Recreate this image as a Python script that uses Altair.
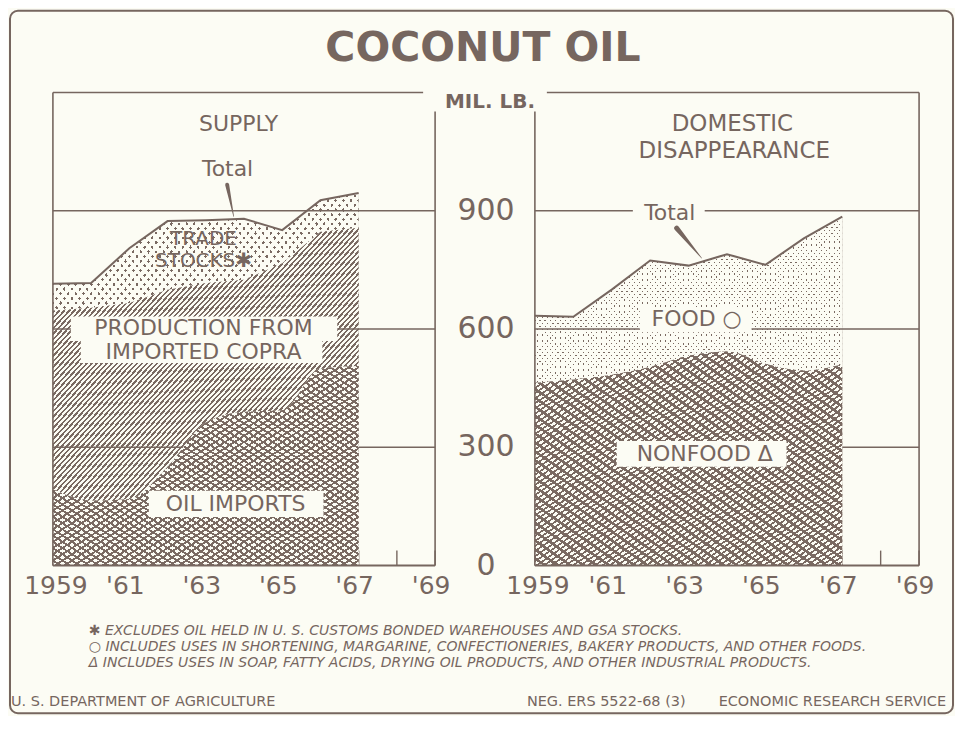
import altair as alt
import pandas as pd

# ---------------- data ----------------
years = [1959, 1960, 1961, 1962, 1963, 1964, 1965, 1966, 1967]
supply_total = [715, 717, 805, 874, 876, 880, 851, 927, 945]
supply_excl_stocks = [647, 654, 666, 700, 717, 725, 767, 847, 857]
oil_imports = [194, 165, 169, 251, 363, 390, 394, 500, 506]
disappearance_total = [634, 631, 700, 774, 761, 790, 763, 830, 885]
nonfood_use = [464, 472, 484, 504, 532, 543, 512, 495, 511]

y_label_values = [0, 300, 600, 900]
grid_values = [300, 600, 900]
x_label_years = [1959, 1961, 1963, 1965, 1967, 1969]
x_label_texts = ["1959", "'61", "'63", "'65", "'67", "'69"]
tick_years = [1959, 1960, 1961, 1962, 1963, 1964, 1965, 1966, 1967, 1968, 1969]

# annotation anchors (data units: year, mil. lb.)
supply_heads = ["SUPPLY"]
supply_heads_at = [(1963.86, 1119)]
supply_total_at = (1963.57, 1005)
supply_pointer = [(1963.56, 966, 4.0), (1963.73, 886, 0.6)]
stocks_labels = ["TRADE", "STOCKS✱"]
stocks_at = [(1962.94, 828), (1962.94, 772)]
copra_labels = ["PRODUCTION FROM", "IMPORTED COPRA"]
copra_at = [(1962.94, 603), (1962.94, 543)]
copra_boxes = [(1959.47, 1966.44, 632, 570), (1959.73, 1966.05, 570, 514)]
imports_labels = ["OIL IMPORTS"]
imports_at = [(1963.78, 157)]
imports_boxes = [(1961.51, 1966.08, 190, 123)]

dom_heads = ["DOMESTIC", "DISAPPEARANCE"]
dom_heads_at = [(1964.14, 1119), (1964.19, 1051)]
dom_total_at = (1962.51, 894)
dom_total_boxes = [(1961.55, 1963.42, 922, 866)]
dom_pointer = [(1962.69, 856, 5.0), (1963.34, 780, 0.6)]
food_labels = ["FOOD ○"]
food_at = [(1963.21, 625)]
food_boxes = [(1961.73, 1964.64, 656, 592)]
nonfood_labels = ["NONFOOD Δ"]
nonfood_at = [(1963.42, 284)]
nonfood_boxes = [(1961.13, 1965.55, 316, 251)]

footnotes = [
    "✱ EXCLUDES OIL HELD IN U. S. CUSTOMS BONDED WAREHOUSES AND GSA STOCKS.",
    "○ INCLUDES USES IN SHORTENING, MARGARINE, CONFECTIONERIES, BAKERY PRODUCTS, AND OTHER FOODS.",
    "Δ INCLUDES USES IN SOAP, FATTY ACIDS, DRYING OIL PRODUCTS, AND OTHER INDUSTRIAL PRODUCTS.",
]

# ---------------- style ----------------
INK = "#76665f"
DARK = "#7a6a62"
PAPER = "#fcfcf4"
CLEAR = "rgba(0,0,0,0)"
FONT = "DejaVu Sans"
W1, W2, H = 383, 385, 474


def stripes(n, c_on, c_off, frac, slant):
    stops = []
    for i in range(n):
        a = round(i / n, 5)
        b = round((i + frac) / n, 5)
        c = round((i + 1) / n, 5)
        stops += [
            {"offset": a, "color": c_on},
            {"offset": b, "color": c_on},
            {"offset": b, "color": c_off},
            {"offset": c, "color": c_off},
        ]
    if slant == "/":
        pos = dict(x1=0, y1=0, x2=1, y2=1)
    else:
        pos = dict(x1=1, y1=0, x2=0, y2=1)
    return {"gradient": "linear", **pos, "stops": stops}


xs = alt.Scale(domain=[1959, 1969], nice=False, zero=False)
ys = alt.Scale(domain=[0, 1200], nice=False, zero=True)
one = pd.DataFrame({"k": [0]})


def X(field):
    return alt.X(field, type="quantitative", scale=xs, axis=None)


def Y(field):
    return alt.Y(field, type="quantitative", scale=ys, axis=None)


def area(df, field, fill, interp="linear"):
    return alt.Chart(df).mark_area(fill=fill, strokeWidth=0, interpolate=interp).encode(
        x=X("year"), y=Y(field))


def rule_v(x, y1, y2):
    return alt.Chart(one).mark_rule(color=INK, strokeWidth=1.6).encode(
        x=alt.value(x), y=alt.value(y1), y2=alt.value(y2))


def rule_h(y, x1, x2, w=1.6):
    return alt.Chart(one).mark_rule(color=INK, strokeWidth=w).encode(
        y=alt.value(y), x=alt.value(x1), x2=alt.value(x2))


def boxes(bx):
    df = pd.DataFrame({"x1": [b[0] for b in bx], "x2": [b[1] for b in bx],
                       "y1": [b[2] for b in bx], "y2": [b[3] for b in bx]})
    return alt.Chart(df).mark_rect(fill=PAPER).encode(
        x=X("x1"), x2="x2:Q", y=Y("y1"), y2="y2:Q")


def notes(labels, at, size, weight="normal"):
    df = pd.DataFrame({"label": labels, "year": [a[0] for a in at], "v": [a[1] for a in at]})
    return alt.Chart(df).mark_text(
        font=FONT, fontSize=size, fontWeight=weight, fill=INK, baseline="middle").encode(
        x=X("year"), y=Y("v"), text="label:N")


def pointer(pts):
    df = pd.DataFrame({"year": [p[0] for p in pts], "v": [p[1] for p in pts], "w": [p[2] for p in pts]})
    return alt.Chart(df).mark_trail(color=INK).encode(
        x=X("year"), y=Y("v"), size=alt.Size("w:Q", scale=None, legend=None))


def ticks_layer():
    df = pd.DataFrame({"year": tick_years})
    return alt.Chart(df).mark_rule(color=INK, strokeWidth=1.4).encode(
        x=X("year"), y=alt.value(H), y2=alt.value(H - 15))


def grid_layer(width):
    df = pd.DataFrame({"v": grid_values})
    return alt.Chart(df).mark_rule(color=INK, strokeWidth=1.4).encode(
        y=Y("v"), x=alt.value(0), x2=alt.value(width))


def x_labels():
    df = pd.DataFrame({"year": x_label_years, "label": x_label_texts,
                       "shift": [0 if t.isdigit() else 1 for t in x_label_texts]})
    plain = alt.Chart(df).transform_filter("datum.shift == 0").mark_text(
        font=FONT, fontSize=25, color=INK, baseline="middle", dx=3).encode(
        x=X("year"), y=alt.value(H + 20), text="label:N")
    prime = alt.Chart(df).transform_filter("datum.shift == 1").mark_text(
        font=FONT, fontSize=25, color=INK, baseline="middle", dx=-4).encode(
        x=X("year"), y=alt.value(H + 20), text="label:N")
    return [plain, prime]


def y_labels():
    df = pd.DataFrame({"v": y_label_values})
    return alt.Chart(df).mark_text(
        font=FONT, fontSize=30, color=INK, baseline="middle", align="center").encode(
        x=alt.value(W1 + 51), y=Y("v"), text=alt.Text("v:Q", format="d"))


# ---------------- left panel: supply ----------------
sup = pd.DataFrame({"year": years, "total": supply_total,
                    "excl": supply_excl_stocks, "imports": oil_imports})

left_layers = [
    ticks_layer(),
    area(sup, "total", DARK),
    area(sup, "total", stripes(80, PAPER, CLEAR, 0.62, "/")),
    area(sup, "total", stripes(80, PAPER, CLEAR, 0.62, "\\")),
    area(sup, "excl", stripes(122, DARK, PAPER, 0.45, "/")),
    grid_layer(W1),
    area(sup, "imports", PAPER, "monotone"),
    area(sup, "imports", stripes(64, DARK, CLEAR, 0.36, "/"), "monotone"),
    area(sup, "imports", stripes(64, DARK, CLEAR, 0.36, "\\"), "monotone"),
    alt.Chart(sup).mark_line(color=INK, strokeWidth=2).encode(x=X("year"), y=Y("total")),
    rule_h(0, 0, 371),
    rule_h(H, 0, W1, 2),
    rule_v(0, 0, H),
    rule_v(W1, 19, H),
    pointer(supply_pointer),
    boxes(copra_boxes),
    boxes(imports_boxes),
    notes(supply_heads, supply_heads_at, 22),
    notes(["Total"], [supply_total_at], 22),
    notes(stocks_labels, stocks_at, 20),
    notes(copra_labels, copra_at, 22),
    notes(imports_labels, imports_at, 22),
    y_labels(),
] + x_labels()

# title, unit, footnotes, footer, frame (page furniture)
left_layers += [
    alt.Chart(one).mark_text(font=FONT, fontSize=41, fontWeight="bold", color=INK,
                             align="center", baseline="middle").encode(
        x=alt.value(431), y=alt.value(-43.5), text=alt.value("COCONUT OIL")),
    alt.Chart(one).mark_text(font=FONT, fontSize=20, fontWeight="bold", color=INK,
                             align="center", baseline="middle").encode(
        x=alt.value(438), y=alt.value(9), text=alt.value("MIL. LB.")),
]
for i, t in enumerate(footnotes):
    left_layers.append(alt.Chart(one).mark_text(
        font=FONT, fontSize=14, fontStyle="italic", color=INK, align="left",
        baseline="middle").encode(x=alt.value(36), y=alt.value(540 + 16 * i), text=alt.value(t)))
left_layers += [
    alt.Chart(one).mark_text(font=FONT, fontSize=14.5, color=INK, align="left", baseline="middle").encode(
        x=alt.value(-42), y=alt.value(611), text=alt.value("U. S. DEPARTMENT OF AGRICULTURE")),
    alt.Chart(one).mark_text(font=FONT, fontSize=14.5, color=INK, align="left", baseline="middle").encode(
        x=alt.value(475), y=alt.value(611), text=alt.value("NEG. ERS 5522-68 (3)")),
    alt.Chart(one).mark_text(font=FONT, fontSize=14.5, color=INK, align="right", baseline="middle").encode(
        x=alt.value(895), y=alt.value(611), text=alt.value("ECONOMIC RESEARCH SERVICE")),
    alt.Chart(one).mark_rect(fillOpacity=0, stroke=INK, strokeWidth=2, cornerRadius=8).encode(
        x=alt.value(-43), x2=alt.value(902), y=alt.value(-82), y2=alt.value(622)),
]

left = alt.layer(*left_layers).properties(width=W1, height=H)

# ---------------- right panel: domestic disappearance ----------------
dom = pd.DataFrame({"year": years, "total": disappearance_total, "nonfood": nonfood_use})

right_layers = [
    ticks_layer(),
    area(dom, "total", DARK),
    area(dom, "total", stripes(120, PAPER, CLEAR, 0.72, "/")),
    area(dom, "total", stripes(120, PAPER, CLEAR, 0.72, "\\")),
    grid_layer(W2),
    area(dom, "nonfood", PAPER, "monotone"),
    area(dom, "nonfood", stripes(48, DARK, CLEAR, 0.36, "\\"), "monotone"),
    area(dom, "nonfood", stripes(84, DARK, CLEAR, 0.40, "/"), "monotone"),
    alt.Chart(dom).mark_line(color=INK, strokeWidth=2).encode(x=X("year"), y=Y("total")),
    rule_h(0, 12, W2),
    rule_h(H, 0, W2, 2),
    rule_v(0, 19, H),
    rule_v(W2, 0, H),
    pointer(dom_pointer),
    boxes(dom_total_boxes),
    boxes(food_boxes),
    boxes(nonfood_boxes),
    notes(dom_heads, dom_heads_at, 23),
    notes(["Total"], [dom_total_at], 22),
    notes(food_labels, food_at, 22),
    notes(nonfood_labels, nonfood_at, 22),
] + x_labels()

right = alt.layer(*right_layers).properties(width=W2, height=H)

chart = (
    alt.hconcat(left, right, spacing=100, bounds="flush")
    .properties(padding=0)
    .configure(background=PAPER)
    .configure_view(stroke="transparent")
)

chart.save("out.html", embed_options={"renderer": "svg", "actions": False})
